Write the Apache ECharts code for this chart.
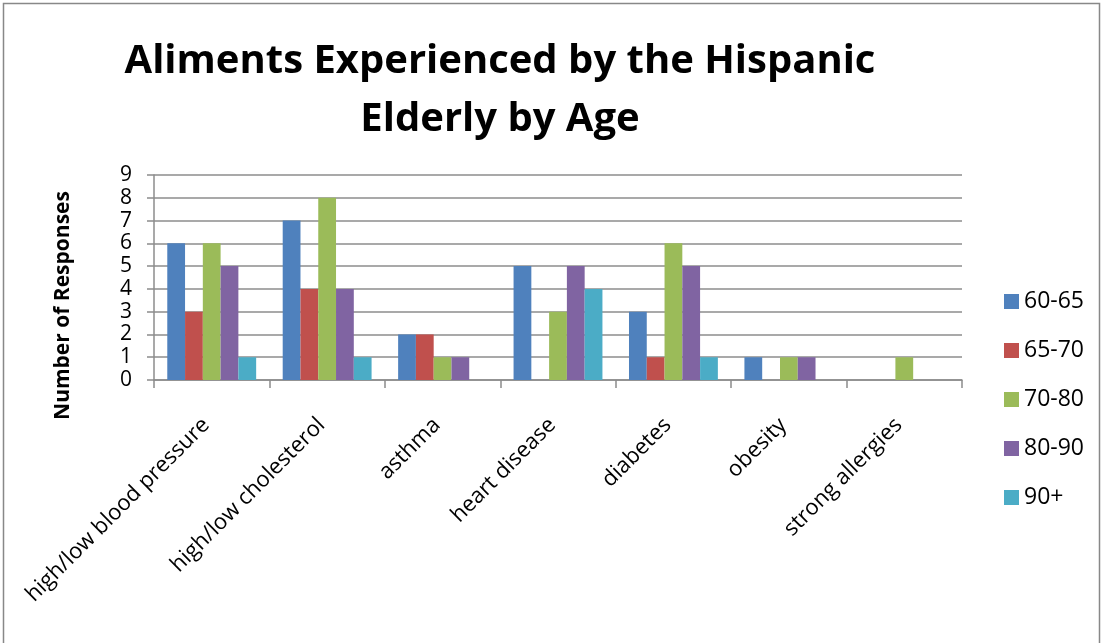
<!DOCTYPE html>
<html>
<head>
<meta charset="utf-8">
<script src="https://cdn.jsdelivr.net/npm/echarts@6/dist/echarts.min.js"></script>
<style>
  html, body { margin: 0; padding: 0; background: #fff; }
  #chart { width: 1104px; height: 643px; }
</style>
</head>
<body>
<div id="chart"></div>
<script>
// Ailments reported, grouped by condition, one series per age bracket
const categories = [
  'high/low blood pressure', 'high/low cholesterol', 'asthma',
  'heart disease', 'diabetes', 'obesity', 'strong allergies'
];
const ageGroups = ['60-65', '65-70', '70-80', '80-90', '90+'];
const age60to65 = [6, 7, 2, 5, 3, 1, 0];
const age65to70 = [3, 4, 2, 0, 1, 0, 0];
const age70to80 = [6, 8, 1, 3, 6, 1, 1];
const age80to90 = [5, 4, 1, 5, 5, 1, 0];
const age90plus = [1, 1, 0, 4, 1, 0, 0];
const yTicks = [0, 1, 2, 3, 4, 5, 6, 7, 8, 9];

const seriesValues = [age60to65, age65to70, age70to80, age80to90, age90plus];
const colors = ['#4F81BD', '#C0504D', '#9BBB59', '#8064A2', '#4BACC6'];
const FONT = "'Open Sans', 'DejaVu Sans', sans-serif";
const gridColor = '#8c8c8c';

const chart = echarts.init(document.getElementById('chart'), null, { renderer: 'canvas' });

chart.setOption({
  animation: false,
  backgroundColor: '#ffffff',
  color: colors,
  graphic: [{
    type: 'rect',
    shape: { x: 3.5, y: 3.5, width: 1096, height: 660 },
    style: { fill: 'none', stroke: '#888888', lineWidth: 1.5 },
    silent: true
  }],
  title: {
    text: 'Aliments Experienced by the Hispanic\nElderly by Age',
    left: 495,
    textAlign: 'center',
    top: 28,
    textStyle: {
      fontFamily: FONT,
      fontWeight: 'bold',
      fontSize: 40,
      lineHeight: 58,
      color: '#000'
    }
  },
  legend: {
    orient: 'vertical',
    left: 999,
    top: 285,
    itemWidth: 15,
    itemHeight: 15,
    itemGap: 26,
    icon: 'rect',
    textStyle: { fontFamily: FONT, fontSize: 23, color: '#000' },
    data: ageGroups
  },
  grid: { left: 154, right: 142, top: 175, bottom: 263, containLabel: false },
  xAxis: {
    type: 'category',
    data: categories,
    axisLine: { lineStyle: { color: gridColor, width: 1.5 } },
    axisTick: { show: true, length: 8, lineStyle: { color: gridColor, width: 1.5 } },
    axisLabel: {
      rotate: 45,
      interval: 0,
      margin: 36,
      padding: [0, 8, 0, 0],
      fontFamily: FONT,
      fontSize: 22,
      color: '#000'
    },
    splitLine: { show: false }
  },
  yAxis: {
    type: 'value',
    min: yTicks[0],
    max: yTicks[yTicks.length - 1],
    interval: 1,
    name: 'Number of Responses',
    nameLocation: 'middle',
    nameRotate: 90,
    nameGap: 80,
    nameTextStyle: {
      fontFamily: FONT, fontWeight: 'bold', fontSize: 21, color: '#000',
      padding: [0, 56, 0, 0]
    },
    axisLine: { show: true, lineStyle: { color: gridColor, width: 1.5 } },
    axisTick: { show: true, length: 7, lineStyle: { color: gridColor, width: 1.5 } },
    axisLabel: { margin: 22, fontFamily: FONT, fontSize: 21, color: '#000' },
    splitLine: { show: true, lineStyle: { color: gridColor, width: 1.5 } }
  },
  series: ageGroups.map((name, i) => ({
    name: name,
    type: 'bar',
    data: seriesValues[i],
    barGap: '0%',
    barCategoryGap: '23%',
    itemStyle: { color: colors[i] }
  }))
});
</script>
</body>
</html>
